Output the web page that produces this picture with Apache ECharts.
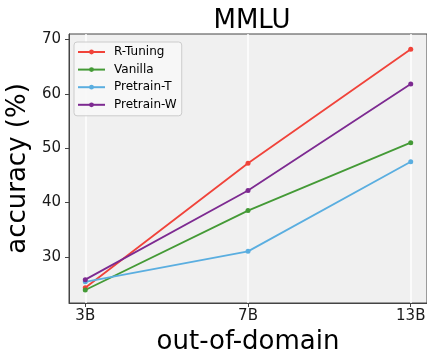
<!DOCTYPE html>
<html><head><meta charset="utf-8">
<script src="https://cdn.jsdelivr.net/npm/echarts@6/dist/echarts.min.js"></script>
<style>html,body{margin:0;padding:0;background:#fff}#c{width:427px;height:354px}</style>
</head><body><div id="c"></div>
<script>
const categories = ['3B', '7B', '13B'];
const rTuning = [24.3, 47.2, 68.2];
const vanilla = [23.9, 38.5, 51.0];
const pretrainT = [25.4, 31.0, 47.5];
const pretrainW = [25.8, 42.2, 61.8];
const yTicks = [30, 40, 50, 60, 70];
const seriesNames = ['R-Tuning', 'Vanilla', 'Pretrain-T', 'Pretrain-W'];
const colors = ['#f0433a', '#449a36', '#5aaee0', '#7d2a91'];
const allData = [rTuning, vanilla, pretrainT, pretrainW];

const font = 'DejaVu Sans';
const chart = echarts.init(document.getElementById('c'), null, {renderer: 'canvas'});
const xIdx = categories.map((_, i) => i);
chart.setOption({
  animation: false,
  backgroundColor: '#fff',
  title: {
    text: 'MMLU', left: 247, top: 3, textAlign: 'center',
    textStyle: {fontFamily: font, fontSize: 26, fontWeight: 'normal', color: '#000'}
  },
  grid: {
    left: 69, right: 0, top: 34, bottom: 51, show: true,
    outerBoundsMode: 'none', containLabel: false,
    backgroundColor: '#f0f0f0', borderColor: '#444', borderWidth: 1
  },
  legend: {
    orient: 'vertical', left: 74, top: 42,
    data: seriesNames,
    itemWidth: 27, itemHeight: 6, itemGap: 5.6,
    padding: [4, 5, 5, 3],
    backgroundColor: 'rgba(247,247,247,0.9)', borderColor: '#cccccc', borderWidth: 1, borderRadius: 3,
    textStyle: {fontFamily: font, fontSize: 12, color: '#000', padding: [0, 0, 0, 4]}
  },
  xAxis: {
    type: 'value', min: -0.1, max: 2.1,
    name: 'out-of-domain', nameLocation: 'middle', nameGap: 23,
    nameTextStyle: {fontFamily: font, fontSize: 26, color: '#000'},
    axisLine: {show: true, onZero: false, lineStyle: {color: '#444'}},
    axisTick: {show: true, customValues: xIdx, length: 4, lineStyle: {color: '#444'}},
    axisLabel: {customValues: xIdx, fontFamily: font, fontSize: 15, color: '#1a1a1a', margin: 6,
      formatter: v => categories[Math.round(v)] || ''},
    splitLine: {show: true, lineStyle: {color: '#ffffff', width: 1.5}}
  },
  yAxis: {
    type: 'value', min: 21.5, max: 71,
    name: 'accuracy (%)', nameLocation: 'middle', nameGap: 34,
    nameTextStyle: {fontFamily: font, fontSize: 26, color: '#000'},
    axisLine: {show: true, onZero: false, lineStyle: {color: '#444'}},
    axisTick: {show: true, customValues: yTicks, length: 4, lineStyle: {color: '#444'}},
    axisLabel: {customValues: yTicks, fontFamily: font, fontSize: 15, color: '#1a1a1a', margin: 8},
    splitLine: {show: false}
  },
  series: seriesNames.map((n, k) => ({
    name: n, type: 'line',
    data: allData[k].map((v, i) => [xIdx[i], v]),
    symbol: 'circle', symbolSize: 5, showSymbol: true,
    lineStyle: {width: 1.8, color: colors[k]},
    itemStyle: {color: colors[k]},
    z: 3
  }))
});
</script></body></html>
